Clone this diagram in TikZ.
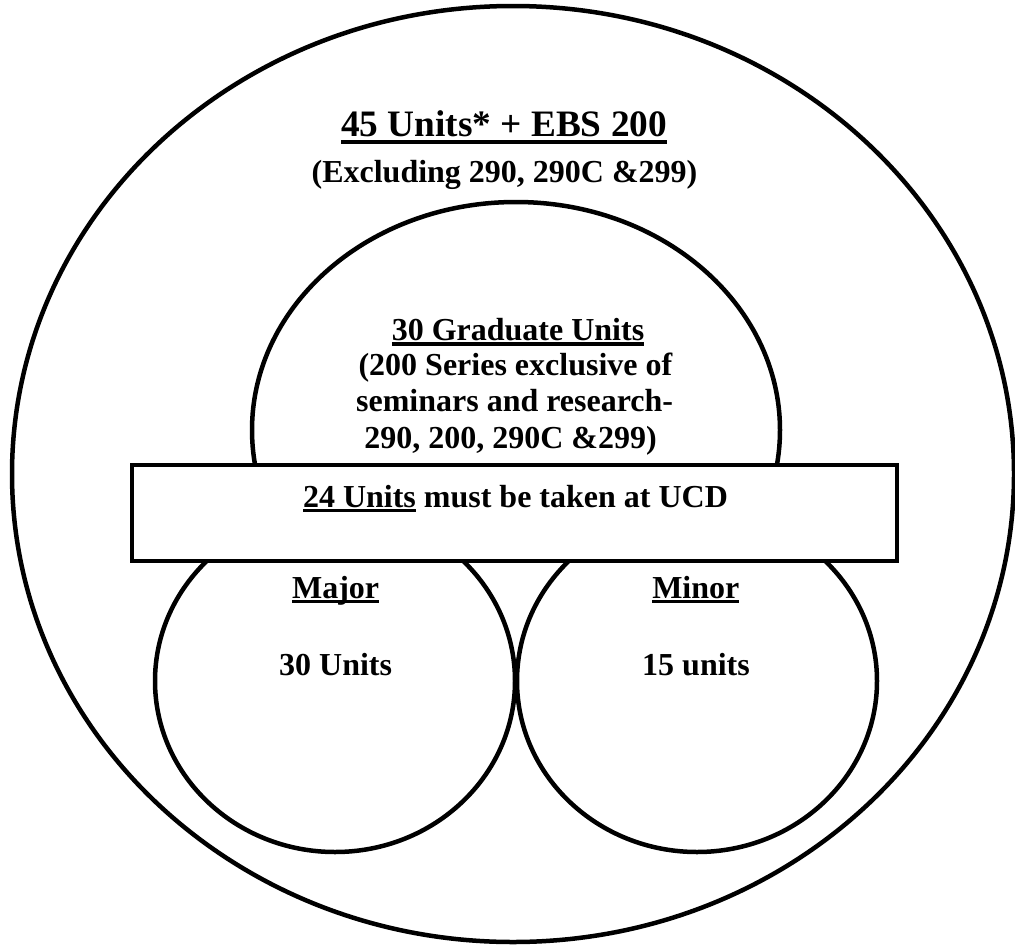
\documentclass[tikz,border=0pt]{standalone}
\usepackage{fontspec}
\setmainfont{Liberation Serif}
\newcommand{\myul}[3]{\setbox0=\hbox{#3}\rlap{\rule[-#1]{\wd0}{#2}}\box0\relax}
\newcommand{\fsz}[1]{\fontsize{#1}{#1}\selectfont\bfseries}
\tikzset{
  shapeline/.style={line width=4.5pt, draw=black},
  lbl/.style={inner sep=0pt, anchor=base, font=\fsz{32pt}},
  ttl/.style={inner sep=0pt, anchor=base, font=\fsz{37.3pt}}
}
\begin{document}
\begin{tikzpicture}[x=1pt,y=-1pt]
\useasboundingbox (0,0) rectangle (1015,945);
\fill[white] (0,0) rectangle (1015,945);
% outer ellipse
\draw[shapeline] (513,474) ellipse [x radius=501, y radius=468];
% graduate ellipse (lower part hidden)
\begin{scope}
\clip (0,0) rectangle (1015,561);
\draw[shapeline, fill=white] (516,430) ellipse [x radius=264, y radius=228];
\end{scope}
% major / minor circles
\draw[shapeline, fill=white] (335,681) ellipse [x radius=180, y radius=171];
\draw[shapeline, fill=white] (697,681) ellipse [x radius=180, y radius=171];
% UCD bar
\draw[shapeline, fill=white] (132,465) rectangle (897,561);
% texts
\node[ttl] (title) at (504,136.5) {\myul{7.5pt}{4pt}{45 Units* + EBS 200}};
\node[lbl] (sub) at (504.5,182) {(Excluding 290, 290C \&299)};
\node[lbl] (g1) at (518,340.5) {\myul{5pt}{3.5pt}{30 Graduate Units}};
\node[lbl] (g2) at (515.4,375) {(200 Series exclusive of};
\node[lbl] (g3) at (514.6,411) {seminars and research-};
\node[lbl] (g4) at (510.5,448) {290, 200, 290C \&299)};
\node[lbl] (ucd) at (515.5,507) {\myul{5pt}{3.5pt}{24 Units} must be taken at UCD};
\node[lbl] (maj) at (335.6,598) {\myul{5pt}{3.5pt}{Major}};
\node[lbl] (majn) at (335.6,675) {30 Units};
\node[lbl] (min) at (695.8,598) {\myul{5pt}{3.5pt}{Minor}};
\node[lbl] (minn) at (696,675) {15 units};
\end{tikzpicture}
\end{document}
